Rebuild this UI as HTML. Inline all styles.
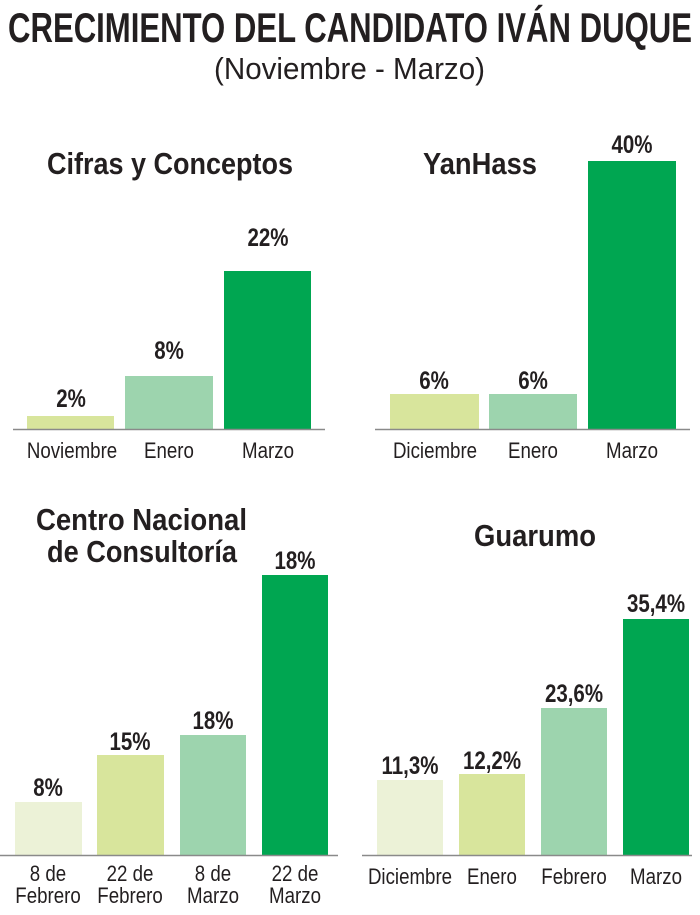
<!DOCTYPE html>
<html><head><meta charset="utf-8"><style>
html,body{margin:0;padding:0;background:#fff;}
svg{display:block;font-family:"Liberation Sans",sans-serif;}
.v{font-weight:bold;font-size:25px;fill:#231f20;}
.l{font-size:22px;fill:#231f20;}
.t{font-weight:bold;font-size:31px;fill:#231f20;}
</style></head><body>
<svg width="700" height="915" viewBox="0 0 700 915">
<text x="8" y="42" font-size="42" font-weight="bold" fill="#231f20" textLength="684" lengthAdjust="spacingAndGlyphs">CRECIMIENTO DEL CANDIDATO IVÁN DUQUE</text>
<text x="214" y="79" font-size="31" fill="#231f20" textLength="271" lengthAdjust="spacingAndGlyphs">(Noviembre - Marzo)</text>

<text class="t" x="47" y="174" textLength="246" lengthAdjust="spacingAndGlyphs">Cifras y Conceptos</text>
<rect x="27" y="416" width="87" height="13" fill="#d8e59c"/>
<rect x="125" y="376" width="88" height="53" fill="#9dd4ae"/>
<rect x="224" y="271" width="87" height="158" fill="#00a651"/>
<line x1="13" y1="429.5" x2="325" y2="429.5" stroke="#8a8a8a" stroke-width="1.5"/>
<g text-anchor="middle">
<text class="v" transform="translate(71,407) scale(0.82,1)">2%</text>
<text class="v" transform="translate(169,359) scale(0.82,1)">8%</text>
<text class="v" transform="translate(268,246) scale(0.82,1)">22%</text>
<text class="l" transform="translate(72,458) scale(0.85,1)">Noviembre</text>
<text class="l" transform="translate(169,458) scale(0.85,1)">Enero</text>
<text class="l" transform="translate(268,458) scale(0.85,1)">Marzo</text>
</g>

<text class="t" x="423" y="174" textLength="114" lengthAdjust="spacingAndGlyphs">YanHass</text>
<rect x="390" y="394" width="89" height="35" fill="#d8e59c"/>
<rect x="489" y="394" width="88" height="35" fill="#9dd4ae"/>
<rect x="588" y="161" width="88" height="268" fill="#00a651"/>
<line x1="375" y1="429.5" x2="690" y2="429.5" stroke="#8a8a8a" stroke-width="1.5"/>
<g text-anchor="middle">
<text class="v" transform="translate(434,389) scale(0.82,1)">6%</text>
<text class="v" transform="translate(533,389) scale(0.82,1)">6%</text>
<text class="v" transform="translate(632,153) scale(0.82,1)">40%</text>
<text class="l" transform="translate(435,458) scale(0.85,1)">Diciembre</text>
<text class="l" transform="translate(533,458) scale(0.85,1)">Enero</text>
<text class="l" transform="translate(632,458) scale(0.85,1)">Marzo</text>
</g>

<text class="t" x="36" y="530" textLength="211" lengthAdjust="spacingAndGlyphs">Centro Nacional</text>
<text class="t" x="47" y="562" textLength="190" lengthAdjust="spacingAndGlyphs">de Consultoría</text>
<rect x="15" y="802" width="67" height="53" fill="#ecf2d7"/>
<rect x="97" y="755" width="67" height="100" fill="#d8e59c"/>
<rect x="180" y="735" width="66" height="120" fill="#9dd4ae"/>
<rect x="262" y="575" width="66" height="280" fill="#00a651"/>
<line x1="0" y1="855.5" x2="338" y2="855.5" stroke="#8a8a8a" stroke-width="1.5"/>
<g text-anchor="middle">
<text class="v" transform="translate(48,796) scale(0.82,1)">8%</text>
<text class="v" transform="translate(130,750) scale(0.82,1)">15%</text>
<text class="v" transform="translate(213,729) scale(0.82,1)">18%</text>
<text class="v" transform="translate(295,569) scale(0.82,1)">18%</text>
<text class="l" transform="translate(48,881) scale(0.85,1)">8 de</text>
<text class="l" transform="translate(48,903) scale(0.85,1)">Febrero</text>
<text class="l" transform="translate(130,881) scale(0.85,1)">22 de</text>
<text class="l" transform="translate(130,903) scale(0.85,1)">Febrero</text>
<text class="l" transform="translate(213,881) scale(0.85,1)">8 de</text>
<text class="l" transform="translate(213,903) scale(0.85,1)">Marzo</text>
<text class="l" transform="translate(295,881) scale(0.85,1)">22 de</text>
<text class="l" transform="translate(295,903) scale(0.85,1)">Marzo</text>
</g>

<text class="t" x="474" y="546" textLength="122" lengthAdjust="spacingAndGlyphs">Guarumo</text>
<rect x="377" y="780" width="66" height="75" fill="#ecf2d7"/>
<rect x="459" y="774" width="66" height="81" fill="#d8e59c"/>
<rect x="541" y="708" width="66" height="147" fill="#9dd4ae"/>
<rect x="623" y="619" width="66" height="236" fill="#00a651"/>
<line x1="362" y1="855.5" x2="692" y2="855.5" stroke="#8a8a8a" stroke-width="1.5"/>
<g text-anchor="middle">
<text class="v" transform="translate(410,774) scale(0.82,1)">11,3%</text>
<text class="v" transform="translate(492,769) scale(0.82,1)">12,2%</text>
<text class="v" transform="translate(574,702) scale(0.82,1)">23,6%</text>
<text class="v" transform="translate(656,612) scale(0.82,1)">35,4%</text>
<text class="l" transform="translate(410,884) scale(0.85,1)">Diciembre</text>
<text class="l" transform="translate(492,884) scale(0.85,1)">Enero</text>
<text class="l" transform="translate(574,884) scale(0.85,1)">Febrero</text>
<text class="l" transform="translate(656,884) scale(0.85,1)">Marzo</text>
</g>
</svg>
</body></html>
